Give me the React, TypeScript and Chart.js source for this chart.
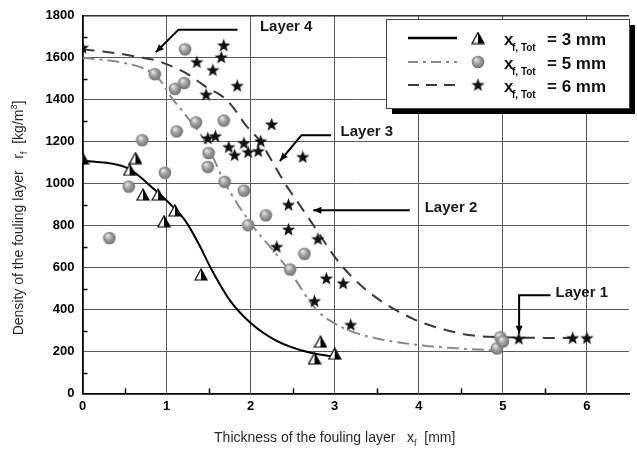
import React, { useEffect, useRef } from "react";
import { Chart, registerables } from "chart.js";

Chart.register(...registerables);

// ---------- data ----------
const xTickValues = [0, 1, 2, 3, 4, 5, 6];
const yTickValues = [0, 200, 400, 600, 800, 1000, 1200, 1400, 1600, 1800];
const xMinorTicks = [0.5, 1.5, 2.5, 3.5, 4.5, 5.5];
const yMinorTicks = [100, 300, 500, 700, 900, 1100, 1300, 1500, 1700];

// measured points, x_f,Tot = 3 mm (triangles)
const tri3X = [0, 0.63, 0.56, 0.72, 0.9, 1.1, 0.97, 1.41, 2.83, 2.76, 3.0];
const tri3Y = [1122, 1122, 1066, 948, 948, 873, 821, 567, 247, 167, 190];

// measured points, x_f,Tot = 5 mm (spheres)
const sph5X = [1.22, 0.86, 1.1, 1.21, 1.35, 1.68, 1.12, 0.71, 1.5, 1.49, 0.98, 0.55, 0.32, 1.69, 1.92, 2.18, 1.97, 2.64, 2.47, 4.93, 4.97, 5.0];
const sph5Y = [1640, 1522, 1452, 1480, 1292, 1301, 1249, 1207, 1146, 1080, 1052, 986, 741, 1009, 967, 849, 802, 666, 591, 215, 268, 248];

// measured points, x_f,Tot = 6 mm (stars)
const star6X = [0, 1.68, 1.65, 1.36, 1.55, 1.84, 1.47, 2.25, 1.49, 1.58, 1.74, 1.92, 2.12, 1.81, 1.97, 2.09, 2.62, 2.45, 2.45, 2.8, 2.31, 2.9, 3.1, 2.76, 3.19, 5.19, 5.83, 6.0];
const star6Y = [1648, 1659, 1602, 1579, 1541, 1466, 1424, 1282, 1216, 1226, 1174, 1193, 1202, 1136, 1150, 1155, 1127, 899, 781, 736, 699, 548, 525, 440, 327, 261, 264, 264];

// fitted curves
const fit3X = [0, 0.53, 0.87, 1.1, 1.22, 1.38, 1.53, 1.76, 2.0, 2.31, 2.7, 3.05];
const fit3Y = [1110, 1075, 967, 880, 825, 715, 595, 440, 336, 251, 195, 172];

const fit5X = [0, 0.5, 0.75, 0.91, 1.06, 1.25, 1.46, 1.7, 2.02, 2.25, 2.46, 2.78, 3.1, 3.5, 4.07, 4.5, 4.92];
const fit5Y = [1600, 1575, 1545, 1499, 1410, 1315, 1200, 1000, 800, 690, 585, 400, 313, 262, 228, 214, 205];

const fit6X = [0, 0.4, 0.71, 0.87, 1.0, 1.14, 1.26, 1.41, 1.49, 1.61, 1.73, 1.84, 1.92, 2.0, 2.11, 2.25, 2.41, 2.58, 2.75, 3.05, 3.4, 3.92, 4.3, 4.65, 5.0, 5.5, 6.0];
const fit6Y = [1640, 1622, 1600, 1588, 1570, 1545, 1520, 1478, 1455, 1430, 1393, 1337, 1290, 1252, 1205, 1110, 1000, 900, 800, 625, 485, 358, 305, 276, 268, 265, 264];

const legendValues = ["= 3 mm", "= 5 mm", "= 6 mm"];
const layerNames = ["Layer 1", "Layer 2", "Layer 3", "Layer 4"];

const FONT = "'Liberation Sans', Arial, Helvetica, sans-serif";

const pts = (xs: number[], ys: number[]) => xs.map((x, i) => ({ x, y: ys[i] }));

// ---------- marker images ----------
function makeTriangle(): HTMLCanvasElement {
  const c = document.createElement("canvas");
  c.width = 14; c.height = 13;
  const g = c.getContext("2d")!;
  g.beginPath(); g.moveTo(7, 1); g.lineTo(1, 12); g.lineTo(13, 12); g.closePath();
  g.fillStyle = "#fff"; g.fill();
  g.beginPath(); g.moveTo(7, 1); g.lineTo(13, 12); g.lineTo(7, 12); g.closePath();
  g.fillStyle = "#000"; g.fill();
  g.beginPath(); g.moveTo(7, 1); g.lineTo(1, 12); g.lineTo(13, 12); g.closePath();
  g.strokeStyle = "#000"; g.lineWidth = 1.2; g.stroke();
  return c;
}
function makeSphere(): HTMLCanvasElement {
  const c = document.createElement("canvas");
  c.width = 14; c.height = 14;
  const g = c.getContext("2d")!;
  const gr = g.createRadialGradient(5, 4.5, 0.5, 7, 7, 7);
  gr.addColorStop(0, "#e6e6e6");
  gr.addColorStop(0.45, "#a0a0a0");
  gr.addColorStop(1, "#6a6a6a");
  g.beginPath(); g.arc(7, 7, 6.3, 0, Math.PI * 2);
  g.fillStyle = gr; g.fill();
  return c;
}
function makeStar(): HTMLCanvasElement {
  const c = document.createElement("canvas");
  c.width = 15; c.height = 15;
  const g = c.getContext("2d")!;
  g.beginPath();
  for (let i = 0; i < 10; i++) {
    const r = i % 2 === 0 ? 7 : 2.9;
    const a = -Math.PI / 2 + (i * Math.PI) / 5;
    const px = 7.5 + r * Math.cos(a);
    const py = 7.8 + r * Math.sin(a);
    if (i === 0) g.moveTo(px, py); else g.lineTo(px, py);
  }
  g.closePath();
  g.fillStyle = "#111"; g.fill();
  return c;
}

// ---------- drawing helpers ----------
function arrow(ctx: CanvasRenderingContext2D, p: number[][]) {
  ctx.beginPath();
  ctx.moveTo(p[0][0], p[0][1]);
  for (let i = 1; i < p.length; i++) ctx.lineTo(p[i][0], p[i][1]);
  ctx.stroke();
  const [x1, y1] = p[p.length - 2];
  const [x2, y2] = p[p.length - 1];
  const ang = Math.atan2(y2 - y1, x2 - x1);
  const L = 8, W = 3.5;
  ctx.beginPath();
  ctx.moveTo(x2, y2);
  ctx.lineTo(x2 - L * Math.cos(ang) + W * Math.sin(ang), y2 - L * Math.sin(ang) - W * Math.cos(ang));
  ctx.lineTo(x2 - L * Math.cos(ang) - W * Math.sin(ang), y2 - L * Math.sin(ang) + W * Math.cos(ang));
  ctx.closePath();
  ctx.fill();
}

type Seg = { t: string; size: number; dy: number; bold?: boolean };
function drawSegs(ctx: CanvasRenderingContext2D, segs: Seg[], cx: number, baseY: number) {
  let total = 0;
  for (const s of segs) { ctx.font = `${s.bold ? "bold " : ""}${s.size}px ${FONT}`; total += ctx.measureText(s.t).width; }
  let x = cx - total / 2;
  ctx.textAlign = "left";
  ctx.textBaseline = "alphabetic";
  for (const s of segs) {
    ctx.font = `${s.bold ? "bold " : ""}${s.size}px ${FONT}`;
    ctx.fillText(s.t, x, baseY + s.dy);
    x += ctx.measureText(s.t).width;
  }
}

export default function App() {
  const ref = useRef<HTMLCanvasElement | null>(null);

  useEffect(() => {
    if (!ref.current) return;
    const tri = makeTriangle();
    const sph = makeSphere();
    const star = makeStar();

    const decor = {
      id: "decor",
      afterDraw(chart: any) {
        const { ctx, chartArea: a, scales } = chart;
        const xs = scales.x, ys = scales.y;
        const X = (v: number) => xs.getPixelForValue(v);
        const Y = (v: number) => ys.getPixelForValue(v);
        ctx.save();

        // top frame line
        ctx.strokeStyle = "#222"; ctx.lineWidth = 1.2;
        ctx.beginPath(); ctx.moveTo(a.left, a.top); ctx.lineTo(a.right, a.top); ctx.stroke();

        // minor ticks
        ctx.strokeStyle = "#000"; ctx.lineWidth = 1.5;
        for (const v of yMinorTicks) {
          const py = Math.round(Y(v)) + 0.5;
          ctx.beginPath(); ctx.moveTo(a.left, py); ctx.lineTo(a.left + 5, py); ctx.stroke();
        }
        for (const v of xMinorTicks) {
          const px = Math.round(X(v)) + 0.5;
          ctx.beginPath(); ctx.moveTo(px, a.bottom); ctx.lineTo(px, a.bottom - 5); ctx.stroke();
        }

        // layer annotations
        ctx.strokeStyle = "#000"; ctx.fillStyle = "#000"; ctx.lineWidth = 2;
        arrow(ctx, [[X(5.568), Y(468)], [X(5.193), Y(468)], [X(5.193), Y(285)]]);
        arrow(ctx, [[X(3.893), Y(873)], [X(2.746), Y(873)]]);
        arrow(ctx, [[X(2.957), Y(1231)], [X(2.605), Y(1231)], [X(2.348), Y(1108)]]);
        arrow(ctx, [[X(1.844), Y(1734)], [X(1.142), Y(1734)], [X(0.872), Y(1626)]]);
        ctx.font = `bold 15px ${FONT}`;
        ctx.textAlign = "left"; ctx.textBaseline = "middle";
        ctx.fillStyle = "#1a1a1a";
        ctx.fillText(layerNames[0], X(5.626), Y(480));
        ctx.fillText(layerNames[1], X(4.07), Y(885));
        ctx.fillText(layerNames[2], X(3.07), Y(1245));
        ctx.fillText(layerNames[3], X(2.11), Y(1746));

        // legend box
        const lx = 386, ly = 19, lw = 243, lh = 89;
        ctx.fillStyle = "#000";
        ctx.fillRect(lx + 6, ly + 6, lw, lh);
        ctx.fillStyle = "#fff";
        ctx.fillRect(lx, ly, lw, lh);
        ctx.strokeStyle = "#444"; ctx.lineWidth = 1;
        ctx.strokeRect(lx + 0.5, ly + 0.5, lw, lh);
        const rows = [38, 62, 85];
        const dashes: number[][] = [[], [10, 5, 3, 5], [11, 7]];
        const colors = ["#000", "#8a8a8a", "#3a3a3a"];
        const imgs = [tri, sph, star];
        rows.forEach((ry, i) => {
          ctx.strokeStyle = colors[i]; ctx.lineWidth = i === 0 ? 2.5 : 2;
          ctx.setLineDash(dashes[i]);
          ctx.beginPath(); ctx.moveTo(408, ry); ctx.lineTo(457, ry); ctx.stroke();
          ctx.setLineDash([]);
          const im = imgs[i];
          ctx.drawImage(im, 478 - im.width / 2, ry - im.height / 2);
          ctx.fillStyle = "#111";
          ctx.textAlign = "left"; ctx.textBaseline = "alphabetic";
          ctx.font = `bold 17px ${FONT}`;
          ctx.fillText("x", 504, ry + 7);
          ctx.font = `bold 10px ${FONT}`;
          ctx.fillText("f, Tot", 512, ry + 13);
          ctx.font = `bold 17px ${FONT}`;
          ctx.fillText(legendValues[i], 547, ry + 7);
        });

        // axis titles
        ctx.fillStyle = "#2a2a2a";
        drawSegs(ctx, [
          { t: "Thickness of the fouling layer   x", size: 14, dy: 0 },
          { t: "f", size: 9, dy: 4 },
          { t: "  [mm]", size: 14, dy: 0 },
        ], X(3.0), 442);

        ctx.save();
        ctx.translate(23, 218);
        ctx.rotate(-Math.PI / 2);
        drawSegs(ctx, [
          { t: "Density of the fouling layer   r", size: 14, dy: 0 },
          { t: "f", size: 9, dy: 4 },
          { t: "  [kg/m", size: 14, dy: 0 },
          { t: "3", size: 9, dy: -6 },
          { t: "]", size: 14, dy: 0 },
        ], 0, 0);
        ctx.restore();

        ctx.restore();
      },
    };

    const tickFont = { family: FONT, size: 13, weight: "bold" as const };

    const chart = new Chart(ref.current, {
      type: "scatter",
      data: {
        datasets: [
          {
            label: "fit 3 mm", data: pts(fit3X, fit3Y), showLine: true, pointRadius: 0,
            borderColor: "#000", borderWidth: 2, cubicInterpolationMode: "monotone", order: 10,
          },
          {
            label: "fit 5 mm", data: pts(fit5X, fit5Y), showLine: true, pointRadius: 0,
            borderColor: "#8a8a8a", borderWidth: 2, borderDash: [12, 5, 3, 5], cubicInterpolationMode: "monotone", order: 11,
          },
          {
            label: "fit 6 mm", data: pts(fit6X, fit6Y), showLine: true, pointRadius: 0,
            borderColor: "#3a3a3a", borderWidth: 2, borderDash: [12, 8], cubicInterpolationMode: "monotone", order: 12,
          },
          {
            label: "6 mm", data: pts(star6X, star6Y), showLine: false, pointStyle: star as any, pointRadius: 7, order: 3,
          },
          {
            label: "5 mm", data: pts(sph5X, sph5Y), showLine: false, pointStyle: sph as any, pointRadius: 7, order: 2,
          },
          {
            label: "3 mm", data: pts(tri3X, tri3Y), showLine: false, pointStyle: tri as any, pointRadius: 7, order: 1,
          },
        ] as any,
      },
      options: {
        animation: false,
        responsive: false,
        devicePixelRatio: 1,
        layout: { padding: { top: 11, right: 0, left: 0, bottom: 0 } },
        plugins: { legend: { display: false }, tooltip: { enabled: false } },
        scales: {
          x: {
            type: "linear", min: 0, max: 6.5,
            afterBuildTicks: (s: any) => { s.ticks = xTickValues.map((v) => ({ value: v })); },
            afterFit: (s: any) => { s.height = 60.5; },
            grid: { color: "#5a5a5a", lineWidth: 1, drawTicks: false },
            border: { color: "#000", width: 1.8 },
            ticks: { padding: 5, color: "#000", font: tickFont, maxRotation: 0, callback: (v: any) => String(v) },
          },
          y: {
            type: "linear", min: 0, max: 1800,
            afterBuildTicks: (s: any) => { s.ticks = yTickValues.map((v) => ({ value: v })); },
            afterFit: (s: any) => { s.width = 82.5; },
            grid: { color: "#5a5a5a", lineWidth: 1, drawTicks: false },
            border: { color: "#000", width: 1.8 },
            ticks: { padding: 8, color: "#000", font: tickFont, callback: (v: any) => String(v) },
          },
        },
      } as any,
      plugins: [decor],
    });
    return () => chart.destroy();
  }, []);

  return (
    <div style={{ position: "absolute", left: 0, top: 0, width: 637, height: 454, background: "#fff" }}>
      <canvas ref={ref} width={637} height={454} style={{ display: "block" }} />
    </div>
  );
}
